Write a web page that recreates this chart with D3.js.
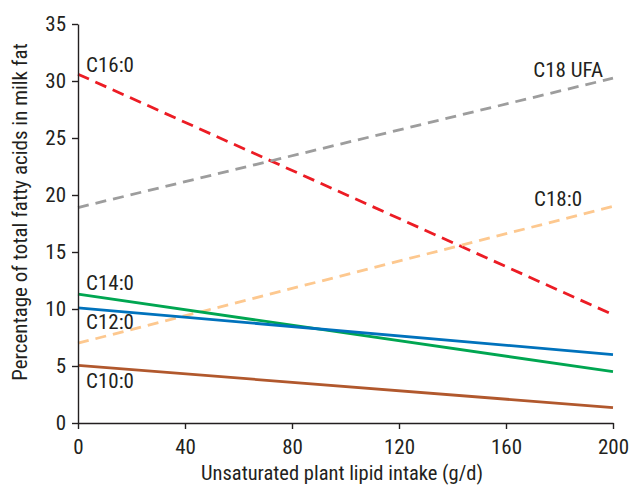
<!DOCTYPE html>
<html><head><meta charset="utf-8">
<script src="https://cdn.jsdelivr.net/npm/d3@7"></script>
<style>
body{margin:0;background:#fff;}
svg text{font-family:"Liberation Sans Narrow","Roboto Condensed","DejaVu Sans Condensed",sans-serif;fill:#231f20;}
</style></head><body>
<svg id="c" width="629" height="485"></svg>
<script>
const xDomain = [0, 200];
const yDomain = [0, 35];
const xTicks = [0, 40, 80, 120, 160, 200];
const yTicks = [0, 5, 10, 15, 20, 25, 30, 35];
const intake = [0, 200];
const seriesNames = ["C16:0", "C18 UFA", "C18:0", "C14:0", "C12:0", "C10:0"];
const c160 = [30.6, 9.5];
const c18ufa = [18.9, 30.25];
const c180 = [7.0, 19.0];
const c140 = [11.3, 4.5];
const c120 = [10.1, 6.0];
const c100 = [5.05, 1.35];
const xTitle = "Unsaturated plant lipid intake (g/d)";
const yTitle = "Percentage of total fatty acids in milk fat";

const FONT = '"Liberation Sans Narrow","Roboto Condensed","DejaVu Sans Condensed",sans-serif';
const series = [
  {name: seriesNames[0], values: c160, color: "#ec1c24", dash: "12,7", lx: 8, ly: 72, anchor: "start", ax: 0},
  {name: seriesNames[1], values: c18ufa, color: "#9d9d9d", dash: "11,7", lx: -10, ly: 77, anchor: "end", ax: 200},
  {name: seriesNames[2], values: c180, color: "#fdc88f", dash: "11,7", lx: -31, ly: 206, anchor: "end", ax: 200},
  {name: seriesNames[3], values: c140, color: "#00a651", dash: null, lx: 8, ly: 290, anchor: "start", ax: 0},
  {name: seriesNames[4], values: c120, color: "#0072bc", dash: null, lx: 8, ly: 329, anchor: "start", ax: 0},
  {name: seriesNames[5], values: c100, color: "#b1582d", dash: null, lx: 8, ly: 388, anchor: "start", ax: 0}
];

const svg = d3.select("#c");
const x = d3.scaleLinear().domain(xDomain).range([78, 613]);
const y = d3.scaleLinear().domain(yDomain).range([423, 24]);

const line = d3.line().x((d,i)=>x(intake[i])).y(d=>y(d));

series.forEach(s=>{
  svg.append("path").attr("d", line(s.values)).attr("fill","none")
    .attr("stroke", s.color).attr("stroke-width", 2.8)
    .attr("stroke-dasharray", s.dash);
});

series.forEach(s=>{
  svg.append("text").attr("x", x(s.ax) + s.lx).attr("y", s.ly)
    .attr("text-anchor", s.anchor).attr("font-size", 21).text(s.name);
});

const xa = svg.append("g").attr("transform","translate(0,423)")
  .call(d3.axisBottom(x).tickValues(xTicks).tickSize(6).tickPadding(10).tickSizeOuter(0));
const ya = svg.append("g").attr("transform","translate(78,0)")
  .call(d3.axisLeft(y).tickValues(yTicks).tickSize(6).tickPadding(6).tickSizeOuter(0));
[xa, ya].forEach(a=>{
  a.selectAll("path,line").attr("stroke","#231f20").attr("stroke-width",1.4);
  a.selectAll("text").attr("font-size",21).attr("fill","#231f20").style("font-family",FONT);
});

svg.append("text").attr("x", 342).attr("y", 480).attr("text-anchor","middle")
  .attr("font-size",20.5).text(xTitle);
svg.append("text").attr("transform","translate(27,212) rotate(-90)")
  .attr("text-anchor","middle").attr("font-size",21).text(yTitle);
</script>
</body></html>
